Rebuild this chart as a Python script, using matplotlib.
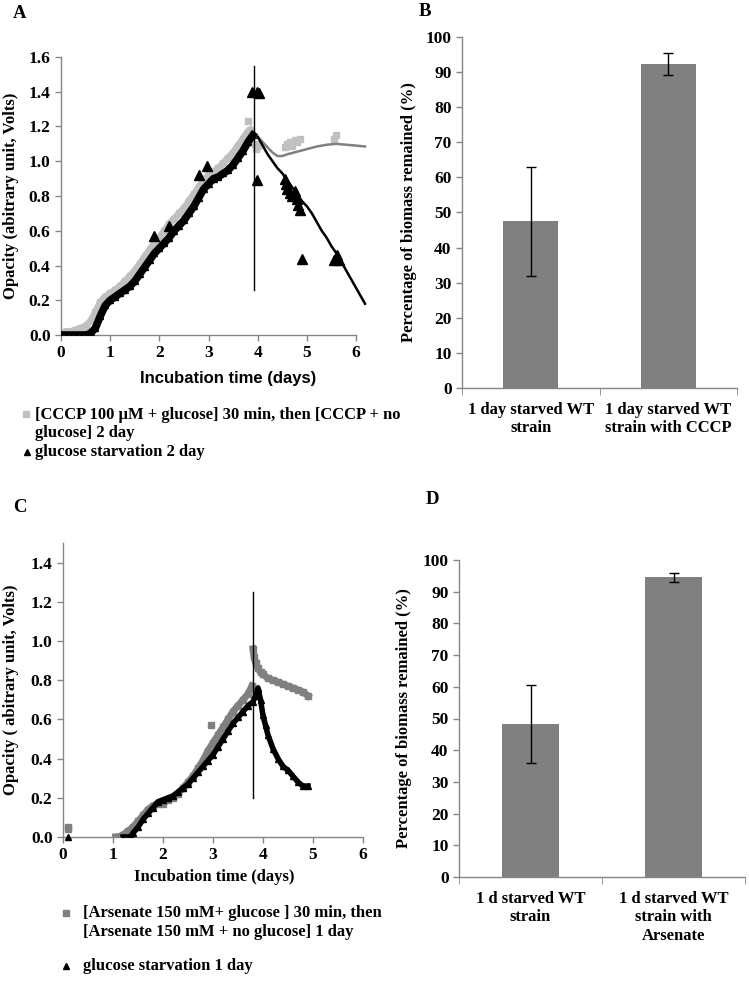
import numpy as np
import matplotlib
matplotlib.use("Agg")
import matplotlib.pyplot as plt
from matplotlib.lines import Line2D

plt.rcParams['font.family'] = ['Liberation Serif', 'DejaVu Serif']
plt.rcParams['font.weight'] = 'bold'

# ---- panel A data (CCCP) ----
a_cccp_x = [0.0, 0.1, 0.2, 0.3, 0.4, 0.5, 0.6, 0.7, 0.8, 0.9, 1.0, 1.1, 1.2, 1.3, 1.4, 1.5,
            1.6, 1.7, 1.8, 1.9, 2.0, 2.1, 2.2, 2.3, 2.4, 2.5, 2.6, 2.7, 2.8, 2.9, 3.0, 3.1,
            3.2, 3.3, 3.4, 3.5, 3.6, 3.7, 3.8, 3.85]
a_cccp_y = [0.01, 0.02, 0.02, 0.03, 0.04, 0.05, 0.08, 0.13, 0.19, 0.22, 0.24, 0.26, 0.28, 0.31,
            0.34, 0.37, 0.41, 0.45, 0.49, 0.53, 0.56, 0.60, 0.64, 0.67, 0.70, 0.73, 0.77, 0.81,
            0.85, 0.89, 0.92, 0.94, 0.96, 0.99, 1.02, 1.05, 1.09, 1.13, 1.17, 1.18]
a_cccp_extra_x = [3.8, 3.95, 3.97, 4.0, 4.55, 4.6, 4.65, 4.7, 4.75, 4.8, 4.85, 5.55, 5.58]
a_cccp_extra_y = [1.23, 1.10, 1.07, 1.09, 1.08, 1.10, 1.11, 1.09, 1.12, 1.11, 1.13, 1.13, 1.15]

a_starv_x = [0.0, 0.1, 0.2, 0.3, 0.4, 0.5, 0.6, 0.7, 0.8, 0.9, 1.0, 1.1, 1.2, 1.3, 1.4, 1.5,
             1.6, 1.7, 1.8, 1.9, 2.0, 2.1, 2.2, 2.3, 2.4, 2.5, 2.6, 2.7, 2.8, 2.9, 3.0, 3.1,
             3.2, 3.3, 3.4, 3.5, 3.6, 3.7, 3.8, 3.9]
a_starv_y = [0.0, 0.0, 0.0, 0.0, 0.0, 0.0, 0.01, 0.04, 0.11, 0.17, 0.20, 0.22, 0.24, 0.26,
             0.28, 0.31, 0.35, 0.39, 0.43, 0.47, 0.50, 0.53, 0.56, 0.60, 0.63, 0.66, 0.70,
             0.74, 0.79, 0.84, 0.87, 0.90, 0.91, 0.93, 0.95, 0.98, 1.02, 1.06, 1.11, 1.15]
a_starv_extra_x = [1.9, 2.2, 2.8, 2.97, 3.88, 3.99, 4.02, 3.98, 4.55, 4.58, 4.6, 4.65, 4.7,
                   4.75, 4.8, 4.82, 4.85, 4.9, 5.55, 5.6, 5.62, 5.65]
a_starv_extra_y = [0.57, 0.63, 0.92, 0.97, 1.40, 1.40, 1.39, 0.89, 0.90, 0.87, 0.84, 0.82,
                   0.80, 0.83, 0.78, 0.75, 0.72, 0.44, 0.43, 0.44, 0.46, 0.43]

a_fit_starv_x = [4.0, 4.1, 4.2, 4.3, 4.4, 4.5, 4.6, 4.7, 4.8, 4.9, 5.0, 5.1, 5.2, 5.3, 5.4,
                 5.5, 5.6, 5.7, 5.8, 5.9, 6.0, 6.1, 6.18]
a_fit_starv_y = [1.14, 1.09, 1.04, 1.00, 0.96, 0.93, 0.89, 0.85, 0.81, 0.77, 0.74, 0.70,
                 0.65, 0.60, 0.56, 0.51, 0.47, 0.42, 0.37, 0.32, 0.27, 0.22, 0.18]
a_fit_cccp_x = [4.0, 4.1, 4.2, 4.3, 4.4, 4.5, 4.6, 4.8, 5.0, 5.2, 5.4, 5.6, 5.8, 6.0, 6.18]
a_fit_cccp_y = [1.14, 1.11, 1.08, 1.05, 1.03, 1.03, 1.04, 1.055, 1.07, 1.085, 1.095, 1.10,
                1.095, 1.09, 1.085]

# ---- panel B ----
b_labels = ['1 day starved WT\nstrain', '1 day starved WT\nstrain with CCCP']
b_values = [47.5, 92.3]
b_errors = [15.5, 3.1]

# ---- panel C data (Arsenate) ----
c_ars_x = [0.1, 0.1, 1.05, 1.1, 1.2, 1.3, 1.4, 1.5, 1.6, 1.7, 1.8, 1.9, 2.0, 2.1, 2.2, 2.3,
           2.4, 2.5, 2.6, 2.7, 2.8, 2.9, 3.0, 3.1, 3.2, 3.3, 3.4, 3.5, 3.6, 3.7, 3.78]
c_ars_y = [0.05, 0.04, 0.0, 0.0, 0.01, 0.03, 0.05, 0.08, 0.11, 0.14, 0.16, 0.17, 0.17, 0.19,
           0.20, 0.22, 0.25, 0.28, 0.31, 0.35, 0.39, 0.44, 0.48, 0.52, 0.56, 0.60, 0.64,
           0.67, 0.70, 0.73, 0.77]
c_ars_after_x = [3.8, 3.82, 3.85, 3.9, 3.95, 4.0, 4.1, 4.2, 4.3, 4.4, 4.5, 4.6, 4.7, 4.8, 4.9]
c_ars_after_y = [0.96, 0.92, 0.89, 0.86, 0.84, 0.83, 0.81, 0.80, 0.79, 0.78, 0.77, 0.76,
                 0.75, 0.74, 0.72]
c_ars_extra_x = [2.95]
c_ars_extra_y = [0.57]

c_starv_x = [1.2, 1.3, 1.35, 1.4, 1.5, 1.6, 1.7, 1.8, 1.9, 2.0, 2.1, 2.2, 2.3, 2.4, 2.5, 2.6,
             2.7, 2.8, 2.9, 3.0, 3.1, 3.2, 3.3, 3.4, 3.5, 3.6, 3.7, 3.8, 3.85, 3.9, 3.95,
             4.0, 4.05, 4.1, 4.2, 4.3, 4.4, 4.5, 4.6, 4.7, 4.8, 4.9]
c_starv_y = [0.0, 0.0, 0.0, 0.02, 0.05, 0.09, 0.12, 0.15, 0.18, 0.19, 0.20, 0.21, 0.23,
             0.25, 0.27, 0.30, 0.33, 0.36, 0.39, 0.42, 0.46, 0.50, 0.54, 0.58, 0.61, 0.64,
             0.67, 0.69, 0.72, 0.76, 0.70, 0.62, 0.57, 0.52, 0.45, 0.40, 0.36, 0.34, 0.31,
             0.28, 0.26, 0.26]
c_starv_extra_x = [0.1]
c_starv_extra_y = [0.0]

# ---- panel D ----
d_labels = ['1 d starved WT\nstrain', '1 d starved WT\nstrain with\nArsenate']
d_values = [48.3, 94.5]
d_errors = [12.2, 1.3]

LIGHT = '#c0c0c0'
MID = '#808080'
SPINE = '#868686'
FS = 12
TFS = 12.5

fig = plt.figure(figsize=(7.49, 9.89), dpi=100)
W, H = 749.0, 989.0


def axes_px(l, t, r, b):
    return fig.add_axes([l / W, 1 - b / H, (r - l) / W, (b - t) / H])


def style(ax):
    for s in ['top', 'right']:
        ax.spines[s].set_visible(False)
    for s in ['left', 'bottom']:
        ax.spines[s].set_color(SPINE)
        ax.spines[s].set_linewidth(1.0)
    ax.tick_params(colors=SPINE, labelcolor='black', labelsize=TFS, length=4, width=1,
                   direction='out')
    for lab in ax.get_xticklabels() + ax.get_yticklabels():
        lab.set_fontweight('bold')


# ---------------- A ----------------
axA = axes_px(61, 57, 366, 335)
axA.plot(a_cccp_x, a_cccp_y, color=LIGHT, lw=5, marker='s', ms=5, zorder=2)
axA.plot(a_cccp_extra_x, a_cccp_extra_y, ls='none', color=LIGHT, marker='s', ms=5, zorder=2)
axA.plot(a_starv_x, a_starv_y, color='black', lw=5.5, marker='^', ms=5, zorder=3)
axA.plot(a_starv_extra_x, a_starv_extra_y, ls='none', color='black', marker='^', ms=7, zorder=3)
axA.plot(a_fit_cccp_x, a_fit_cccp_y, color=MID, lw=1.8, zorder=3, clip_on=False)
axA.plot(a_fit_starv_x, a_fit_starv_y, color='black', lw=1.8, zorder=3, clip_on=False)
axA.plot([3.92, 3.92], [0.26, 1.55], color='black', lw=1, zorder=4)
axA.set_xlim(0, 6.2)
axA.set_ylim(0, 1.6)
axA.set_xticks(range(0, 7))
axA.set_yticks(np.arange(0, 1.61, 0.2))
axA.set_yticklabels(['%.1f' % v for v in np.arange(0, 1.61, 0.2)])
axA.spines['bottom'].set_bounds(0, 6)
style(axA)
axA.set_ylabel('Opacity (abitrary unit, Volts)', fontsize=FS, fontweight='bold')
axA.yaxis.set_label_coords(-0.138, 0.5)
axA.text(0.548, -0.155, 'Incubation time (days)', transform=axA.transAxes, ha='center',
         va='center', fontsize=12, fontweight='bold', family=['Liberation Sans'])

# ---------------- B ----------------
def bar_panel(ax, labels, values, errors, lab_x):
    ax.bar([0, 1], values, width=0.4, color=MID, zorder=2)
    ax.errorbar([0, 1], values, yerr=errors, fmt='none', ecolor='black', elinewidth=1,
                capsize=3.5, capthick=1, zorder=3)
    ax.set_xlim(-0.5, 1.5)
    ax.set_ylim(0, 100)
    ax.set_yticks(range(0, 101, 10))
    ax.set_xticks([0, 1])
    ax.set_xticklabels(labels)
    ax.set_xticks([-0.5, 0.5, 1.5], minor=True)
    style(ax)
    ax.tick_params(axis='x', which='major', length=0, pad=10, labelsize=FS)
    ax.tick_params(axis='x', which='minor', length=5, color=SPINE)
    for lab in ax.get_xticklabels():
        lab.set_fontweight('bold')
        lab.set_linespacing(1.2)
    ax.set_ylabel('Percentage of biomass remained (%)', fontsize=FS, fontweight='bold')
    ax.yaxis.set_label_coords(lab_x, 0.5)


axB = axes_px(462, 37, 737, 388)
bar_panel(axB, b_labels, b_values, b_errors, -0.164)

# ---------------- C ----------------
axC = axes_px(63, 543, 363, 837)
axC.plot(c_ars_x[2:], c_ars_y[2:], color=MID, lw=5, marker='s', ms=5, zorder=2)
axC.plot(c_ars_x[:2], c_ars_y[:2], ls='none', color=MID, marker='s', ms=5, zorder=2)
axC.plot(c_ars_after_x, c_ars_after_y, color=MID, lw=5, marker='s', ms=5, zorder=2)
axC.plot(c_ars_extra_x, c_ars_extra_y, ls='none', color=MID, marker='s', ms=5, zorder=2)
axC.plot(c_starv_x, c_starv_y, color='black', lw=4, marker='^', ms=5, zorder=3)
axC.plot(c_starv_extra_x, c_starv_extra_y, ls='none', color='black', marker='^', ms=5,
         zorder=3, clip_on=False)
axC.plot([3.8, 3.8], [0.2, 1.25], color='black', lw=1, zorder=4)
axC.set_xlim(0, 6)
axC.set_ylim(0, 1.5)
axC.set_xticks(range(0, 7))
axC.set_yticks(np.arange(0, 1.41, 0.2))
axC.set_yticklabels(['%.1f' % v for v in np.arange(0, 1.41, 0.2)])
style(axC)
axC.set_ylabel('Opacity ( abitrary unit, Volts)', fontsize=FS, fontweight='bold')
axC.yaxis.set_label_coords(-0.145, 0.5)
axC.text(0.503, -0.136, 'Incubation time (days)', transform=axC.transAxes, ha='center',
         va='center', fontsize=FS, fontweight='bold')

# ---------------- D ----------------
axD = axes_px(459, 560, 745, 877)
bar_panel(axD, d_labels, d_values, d_errors, -0.164)

# ---------------- panel letters ----------------
for letter, x, y in [('A', 20, 13), ('B', 425, 12), ('C', 20, 508), ('D', 432, 500)]:
    fig.text(x / W, 1 - y / H, letter, ha='center', va='center', fontsize=13.5,
             fontweight='bold')

# ---------------- legends ----------------
def legend_marker(x, y, marker, color, ms):
    fig.add_artist(Line2D([x / W], [1 - y / H], marker=marker, color=color, ms=ms,
                          ls='none', transform=fig.transFigure))


legend_marker(26, 414, 's', LIGHT, 4.5)
fig.text(35 / W, 1 - 415 / H, '[CCCP 100 \u00b5M + glucose] 30 min, then [CCCP + no',
         ha='left', va='center', fontsize=FS, fontweight='bold')
fig.text(35 / W, 1 - 433 / H, 'glucose] 2 day', ha='left', va='center', fontsize=FS,
         fontweight='bold')
legend_marker(27, 452, '^', 'black', 5)
fig.text(35 / W, 1 - 452 / H, 'glucose starvation 2 day', ha='left', va='center',
         fontsize=FS, fontweight='bold')

legend_marker(66, 913, 's', MID, 4.5)
fig.text(83 / W, 1 - 913 / H, '[Arsenate 150 mM+ glucose ] 30 min, then',
         ha='left', va='center', fontsize=FS, fontweight='bold')
fig.text(83 / W, 1 - 932 / H, '[Arsenate 150 mM + no glucose] 1 day', ha='left',
         va='center', fontsize=FS, fontweight='bold')
legend_marker(66, 966, '^', 'black', 5)
fig.text(83 / W, 1 - 966 / H, 'glucose starvation 1 day', ha='left', va='center',
         fontsize=FS, fontweight='bold')

fig.savefig('out.png', dpi=100)
